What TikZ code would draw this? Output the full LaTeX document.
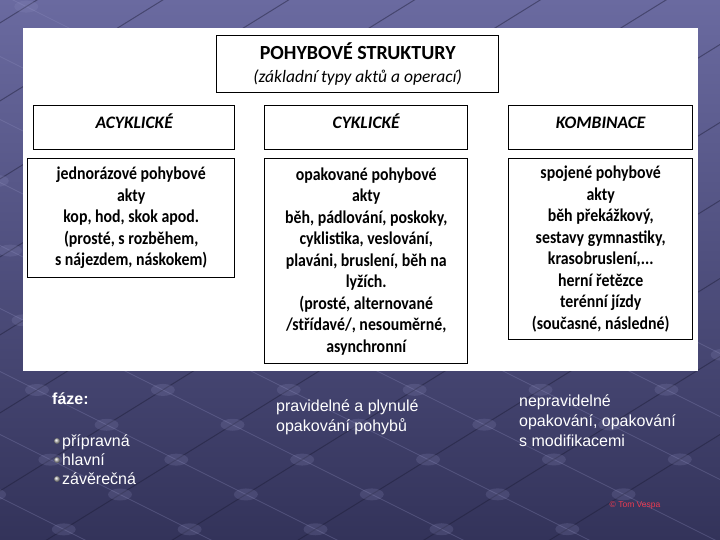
\documentclass[tikz,border=0pt]{standalone}
\usepackage{fontspec}
\setmainfont{Carlito}
\newfontfamily\boxfont{Carlito}[FakeStretch=0.88]
\newfontfamily\slidefont{Liberation Sans}
\usetikzlibrary{positioning}
\definecolor{slidetop}{HTML}{6A6AA0}
\definecolor{slidebottom}{HTML}{33335A}
\definecolor{gridlight}{HTML}{9090C0}
\definecolor{griddark}{HTML}{1C1C36}
\definecolor{creditred}{HTML}{EE3A50}
\definecolor{bulletgray}{HTML}{B8B8B8}

\begin{document}
\begin{tikzpicture}[x=1pt,y=-1pt,
  line join=miter,
  panel/.style={fill=white,draw=none},
  framebox/.style={draw=black,line width=1.4pt,fill=white,inner sep=0pt,anchor=north west},
  titletext/.style={align=center,font=\fontsize{17.5}{23}\selectfont},
  headtext/.style={anchor=base,font=\fontsize{17.5}{21}\selectfont\bfseries\itshape},
  bodytext/.style={align=center,font=\boxfont\fontsize{18}{21.5}\selectfont\bfseries},
  slidetext/.style={anchor=north west,align=left,inner sep=0pt,text=white,font=\slidefont\fontsize{16}{20}\selectfont},
  listtext/.style={anchor=base west,inner sep=0pt,text=white,font=\slidefont\fontsize{16}{19}\selectfont},
  bullet/.style={circle,inner sep=0pt,minimum size=6pt,ball color=bulletgray},
  gridlight/.style={draw=gridlight,line width=0.7pt,opacity=0.3},
  griddark/.style={draw=griddark,line width=1pt,opacity=0.45},
  bump/.style={fill=gridlight,opacity=0.2},
  credit/.style={text=creditred,font=\slidefont\fontsize{8.5}{9}\selectfont}
]
  \useasboundingbox (0,0) rectangle (720,540);
  \shade[top color=slidetop,bottom color=slidebottom] (0,0) rectangle (720,540);

  % background grid
  \begin{scope}
    \clip (0,0) rectangle (720,540);
    \foreach \a in {-6,...,4}
      \draw[gridlight] (0,{371.5+63*\a}) -- (720,{371.5+63*\a+360});
    \foreach \b in {-5,...,6}
      \draw[griddark] (0,{412.9+78*\b}) -- (720,{412.9+78*\b-446.4});
    \foreach \a in {-6,...,4} {
      \foreach \b in {-5,...,6} {
        \pgfmathsetmacro{\bx}{(412.9+78*\b-371.5-63*\a)/1.12}
        \pgfmathsetmacro{\by}{371.5+63*\a+0.5*\bx}
        \fill[bump] (\bx,\by) ellipse [x radius=12pt,y radius=6pt];
      }
    }
  \end{scope}

  \path[panel] (23,28) rectangle (698,371);

  \node[framebox,titletext,minimum width=282,minimum height=57] (title) at (216,35)
    {{\fontsize{20}{23}\selectfont\bfseries POHYBOVÉ STRUKTURY}\\ {\itshape (základní typy aktů a operací)}};

  \node[framebox,minimum width=201,minimum height=44] (acychead) at (33,105) {};
  \node[framebox,minimum width=203,minimum height=44] (cychead) at (264,105) {};
  \node[framebox,minimum width=184,minimum height=44] (combhead) at (508,105) {};
  \node[headtext] (acyclabel) at ([yshift=-0.5pt]acychead.center) {ACYKLICKÉ};
  \node[headtext] (cyclabel) at ([yshift=-0.5pt]cychead.center) {CYKLICKÉ};
  \node[headtext] (comblabel) at ([yshift=-0.5pt]combhead.center) {KOMBINACE};

  \node[framebox,bodytext,minimum width=207,minimum height=119] (acycbody) at (27,158)
    {jednorázové pohybové\\ akty\\ kop, hod, skok apod.\\ (prosté, s rozběhem,\\ s nájezdem, náskokem)};
  \node[framebox,bodytext,minimum width=203,minimum height=205] (cycbody) at (264,158)
    {opakované pohybové\\ akty\\ běh, pádlování, poskoky,\\ cyklistika, veslování,\\ plaváni, bruslení, běh na\\ lyžích.\\ (prosté, alternované\\ /střídavé/, nesouměrné,\\ asynchronní};
  \node[framebox,bodytext,minimum width=184,minimum height=181] (combbody) at (508,158)
    {spojené pohybové\\ akty\\ běh překážkový,\\ sestavy gymnastiky,\\ krasobruslení,...\\ herní řetězce\\ terénní jízdy\\ (současné, následné)};

  \node[slidetext,font=\slidefont\bfseries\fontsize{16}{19.5}\selectfont] (phases) at (52,393) {fáze:};
  \foreach \item/\name [count=\i] in {přípravná/prep,hlavní/main,závěrečná/final} {
    \node[listtext] (\name) at (62,{427+19*\i}) {\item};
    \node[bullet] (\name dot) at (57,{422+19*\i}) {};
  }
  \node[slidetext] (cycnote) at (276,400) {pravidelné a plynulé\\ opakování pohybů};
  \node[slidetext] (combnote) at (519,395) {nepravidelné\\ opakování, opakování\\ s modifikacemi};

  \node[credit] (author) at (635,505) {© Tom Vespa};
\end{tikzpicture}
\end{document}
